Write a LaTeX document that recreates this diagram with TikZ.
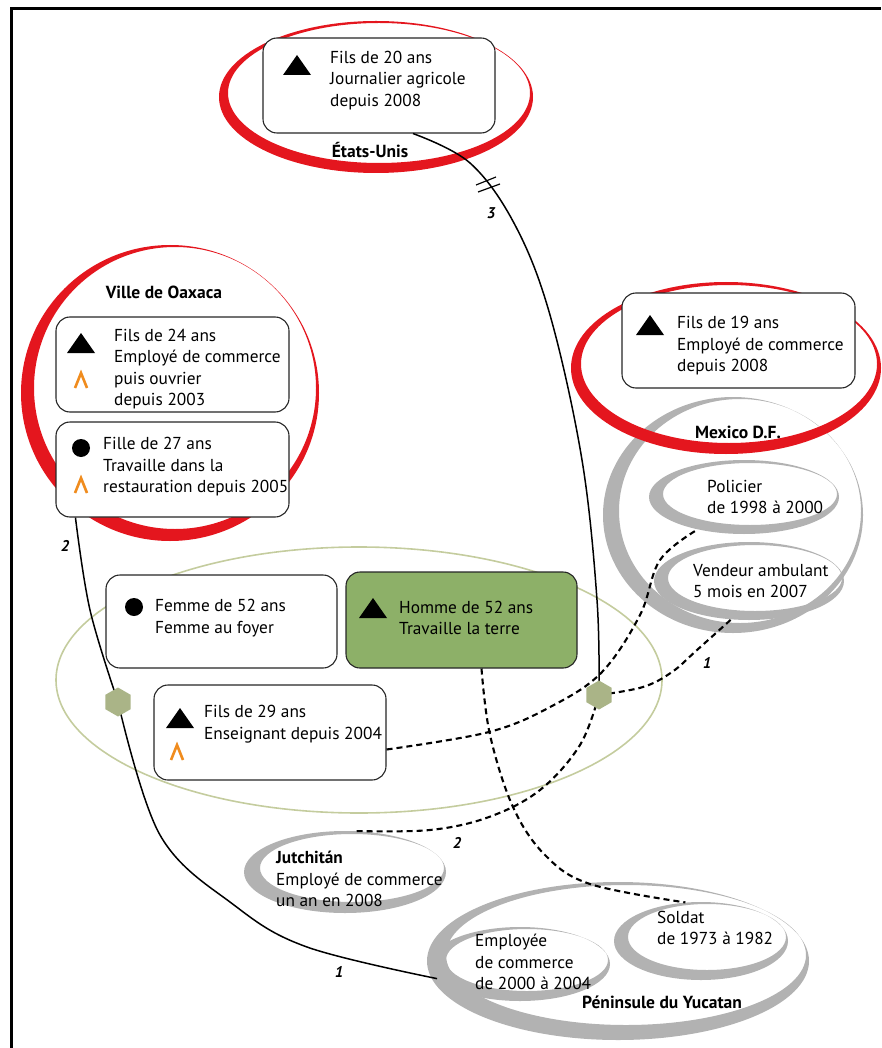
\documentclass[tikz,border=0pt]{standalone}
\usepackage{fontspec}
\setmainfont{PT Sans}
\usetikzlibrary{shapes.geometric}
\definecolor{brushred}{RGB}{228,22,30}
\definecolor{brushgray}{RGB}{178,178,178}
\definecolor{famgreen}{RGB}{196,204,158}
\definecolor{boxgreen}{RGB}{141,176,104}
\definecolor{hexgreen}{RGB}{170,180,135}
\definecolor{caretorange}{RGB}{240,140,30}
\begin{document}
\begin{tikzpicture}[x=1pt,y=-1pt,
  box/.style={draw=black!85, line width=1.1pt, rounded corners=14pt, fill=white, minimum width=232pt, minimum height=95pt, inner sep=0pt},
  txt/.style={font=\fontsize{17.3}{21.5}\selectfont, align=left, anchor=west, inner sep=0pt, text=black},
  lbl/.style={font=\fontsize{17.5}{21.5}\selectfont\bfseries, inner sep=0pt},
  num/.style={font=\fontsize{15.5}{18}\selectfont\bfseries\itshape, inner sep=0pt},
  zone/.style={ellipse, inner sep=0pt},
  hexa/.style={regular polygon, regular polygon sides=6, shape border rotate=30, fill=hexgreen, minimum size=29pt, inner sep=0pt},
  conn/.style={line width=1.5pt, black},
  dconn/.style={line width=2.1pt, black, dash pattern=on 6pt off 4pt},
  tri/.pic={\fill[black] (-14,10) -- (0,-10) -- (14,10) -- cycle;},
  caret/.pic={\draw[caretorange, line width=2.6pt] (-6,8) -- (0,-7) -- (6,8);},
  dot/.pic={\fill[black] (0,0) circle (9pt);}
]
\useasboundingbox (0,0) rectangle (881,1048);
% frame
\draw[line width=3pt] (11.3,1048) -- (11.3,8.3) -- (881,8.3);

% family ellipse
\node[zone, draw=famgreen, line width=1.6pt, minimum width=606pt, minimum height=266pt] (fam) at (359,680) {};

% grey brush swirls
\fill[brushgray, even odd rule] (733,515) ellipse (130pt and 118pt) (740,511) ellipse (121pt and 112pt);
\fill[brushgray, even odd rule] (744,497) ellipse (95pt and 37pt) (750,494) ellipse (87pt and 31pt);
\fill[brushgray, even odd rule] (749,581) ellipse (95pt and 39pt) (755,578) ellipse (87pt and 33pt);
\fill[brushgray, even odd rule] (345,872) ellipse (101pt and 41pt) (352,868) ellipse (92pt and 34pt);
\fill[brushgray, even odd rule] (618,961) ellipse (191pt and 79pt) (626,955) ellipse (180pt and 70pt);
\fill[brushgray, even odd rule] (520,964) ellipse (90pt and 37pt) (527,960) ellipse (81pt and 31pt);
\fill[brushgray, even odd rule] (701,941) ellipse (87pt and 39pt) (707,937) ellipse (79pt and 33pt);
\node[zone, minimum width=190pt, minimum height=74pt] (swP) at (744,497) {};
\node[zone, minimum width=190pt, minimum height=78pt] (swV) at (749,581) {};
\node[zone, minimum width=202pt, minimum height=82pt] (swJ) at (345,872) {};
\node[zone, minimum width=180pt, minimum height=74pt] (swE) at (520,964) {};
\node[zone, minimum width=174pt, minimum height=78pt] (swS) at (701,941) {};

% red brush ellipses
\fill[brushred, even odd rule] (376,97) ellipse (157pt and 76pt) (379,93) ellipse (151pt and 70pt);
\fill[brushred, even odd rule] (170,393) ellipse (149pt and 148pt) (175,388) ellipse (141pt and 141pt);
\fill[brushred, even odd rule] (726,368) ellipse (155pt and 86pt) (729,364) ellipse (148pt and 79pt);

% boxes
\node[box] (bU) at (379,85.5) {};
\node[box, minimum width=233pt] (bO1) at (172.5,364.5) {};
\node[box, minimum width=233pt] (bO2) at (172.5,469.5) {};
\node[box, minimum width=233pt] (bM) at (738.5,340.5) {};
\node[box, minimum width=231pt, minimum height=93pt] (bF) at (221.5,621.5) {};
\node[box, minimum width=231pt, minimum height=96pt, fill=boxgreen] (bH) at (461.5,620) {};
\node[box] (bS) at (270,732.5) {};

% hexagon positions
\coordinate (hL) at (118,702);
\coordinate (hR) at (599,695);

% solid connectors
\draw[conn] plot[smooth, tension=0.6] coordinates {([xshift=20pt]bO2.south west) (90,610) (hL)};
\draw[conn] plot[smooth, tension=0.6] coordinates {(hL) (160,835) (234,905) (307,947) (swE.190)};
\draw[conn] plot[smooth, tension=0.6] coordinates {([xshift=34pt]bU.south) (470,163) (515,225) (550,315) (582,460) (597,600) (hR)};
\draw[conn, line width=1.2pt] (476,185) -- (496,177);
\draw[conn, line width=1.2pt] (478,192) -- (500,184);

% dashed connectors
\draw[dconn] plot[smooth, tension=0.6] coordinates {([yshift=-17pt]bS.east) (489,732) (552,706) (602,672) (640,615) (660,560) (swP.215)};
\draw[dconn] plot[smooth, tension=0.6] coordinates {(hR) (643,687) (672,672) (697,650) (swV.245)};
\draw[dconn] plot[smooth, tension=0.6] coordinates {(hR) (580,745) (540,790) (489,817) (430,830) (swJ.76)};
\draw[dconn] plot[smooth, tension=0.6] coordinates {([xshift=20pt]bH.south) (490,735) (513,807) (545,855) (590,884) (swS.112)};

\node[hexa] (hexL) at (hL) {};
\node[hexa] (hexR) at (hR) {};

% numbers
\node[num] (n2a) at (65,546) {2};
\node[num] (n3) at (491,213) {3};
\node[num] (n1a) at (707,663) {1};
\node[num] (n2b) at (457,843) {2};
\node[num] (n1b) at (339,972) {1};

% icons
\pic at (297,65) {tri};
\pic at (81,343) {tri};
\pic at (81,380) {caret};
\pic at (81,448) {dot};
\pic at (81,485) {caret};
\pic at (650,325) {tri};
\pic at (134,607) {dot};
\pic at (373,608) {tri};
\pic at (180,718) {tri};
\pic at (177,752) {caret};

% texts
\node[txt] (tU) at (330,80.5) {Fils de 20 ans\\Journalier agricole\\depuis 2008};
\node[lbl] (lU) at (370,150) {États-Unis};
\node[lbl] (lO) at (164,292) {Ville de Oaxaca};
\node[txt] (tO1) at (114,369) {Fils de 24 ans\\Employé de commerce\\puis ouvrier\\depuis 2003};
\node[txt] (tO2) at (103,467) {Fille de 27 ans\\Travaille dans la\\restauration depuis 2005};
\node[txt] (tM) at (677,346) {Fils de 19 ans\\Employé de commerce\\depuis 2008};
\node[lbl] (lM) at (738,432) {Mexico D.F.};
\node[txt] (tP) at (707,497) {Policier\\de 1998 à 2000};
\node[txt] (tV) at (693,581) {Vendeur ambulant\\5 mois en 2007};
\node[txt] (tF) at (155,618) {Femme de 52 ans\\Femme au foyer};
\node[txt] (tH) at (399,618) {Homme de 52 ans\\Travaille la terre};
\node[txt] (tS) at (204,724) {Fils de 29 ans\\Enseignant depuis 2004};
\node[txt] (tJ) at (276,879) {\textbf{Jutchitán}\\Employé de commerce\\un an en 2008};
\node[txt] (tE) at (475,962) {Employée\\de commerce\\de 2000 à 2004};
\node[txt] (tSo) at (657,928) {Soldat\\de 1973 à 1982};
\node[lbl, anchor=west] (lY) at (582,1002) {Péninsule du Yucatan};
\end{tikzpicture}
\end{document}
